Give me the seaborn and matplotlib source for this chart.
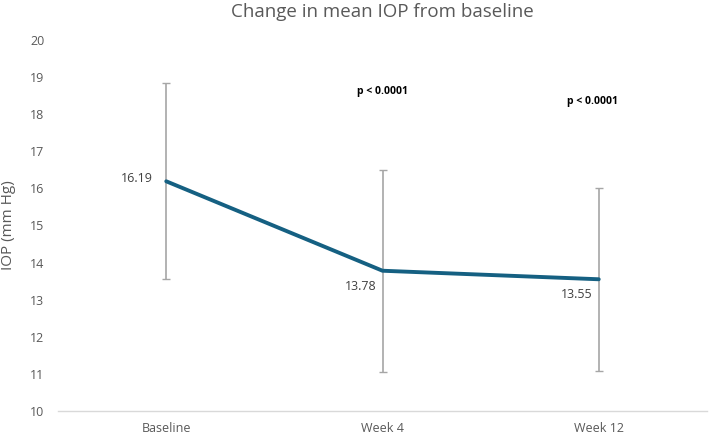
import numpy as np
import pandas as pd
import seaborn as sns
import matplotlib.pyplot as plt

# Chart data
visits = ['Baseline', 'Week 4', 'Week 12']
mean_iop = [16.19, 13.78, 13.55]
sd_iop = [2.64, 2.72, 2.46]
p_labels = ['', 'p < 0.0001', 'p < 0.0001']
p_heights = [None, 18.6, 18.33]

LINE_COLOR = '#156082'
TEXT_COLOR = '#595959'


def main():
    sns.set_style('white')
    plt.rcParams['font.family'] = ['Open Sans', 'DejaVu Sans']

    df = pd.DataFrame({'visit': visits, 'iop': mean_iop, 'sd': sd_iop})

    fig = plt.figure(figsize=(7.09, 4.34), dpi=100)
    ax = fig.add_axes([0.082, 0.053, 0.915, 0.855])

    x = np.arange(len(visits))
    ax.errorbar(x, df['iop'], yerr=df['sd'], fmt='none', ecolor='#a6a6a6',
                elinewidth=1.2, capsize=3, capthick=1, zorder=1)
    sns.lineplot(data=df, x='visit', y='iop', ax=ax, color=LINE_COLOR,
                 linewidth=2.8, sort=False, zorder=2)

    # value labels
    ax.annotate(f'{mean_iop[0]:.2f}', (x[0], mean_iop[0]), xytext=(-10, 2),
                textcoords='offset points', ha='right', va='center',
                fontsize=9, color='#404040')
    for i in (1, 2):
        ax.annotate(f'{mean_iop[i]:.2f}', (x[i], mean_iop[i]), xytext=(-16, -11),
                    textcoords='offset points', ha='center', va='center',
                    fontsize=9, color='#404040')

    for i, lab in enumerate(p_labels):
        if lab:
            ax.text(x[i] - (0.03 if i == 2 else 0), p_heights[i], lab, ha='center',
                    va='center', fontsize=7.5, fontweight='bold', color='black')

    ax.set_xlim(-0.5, 2.5)
    ax.set_ylim(10, 20)
    ax.set_yticks(range(10, 21))
    ax.set_xticks(x)
    ax.set_xticklabels(visits)
    ax.set_xlabel('')
    ax.set_ylabel('IOP (mm Hg)', fontsize=11, color=TEXT_COLOR, labelpad=10)
    ax.tick_params(axis='both', length=0, labelsize=9, labelcolor=TEXT_COLOR)
    ax.tick_params(axis='y', pad=10)
    ax.tick_params(axis='x', pad=8)

    for side in ('top', 'right', 'left'):
        ax.spines[side].set_visible(False)
    ax.spines['bottom'].set_color('#d9d9d9')
    ax.spines['bottom'].set_linewidth(1)

    fig.text(0.54, 0.972, 'Change in mean IOP from baseline', ha='center',
             va='center', fontsize=13.5, color=TEXT_COLOR)

    fig.savefig('out.png', dpi=100)


if __name__ == '__main__':
    main()
